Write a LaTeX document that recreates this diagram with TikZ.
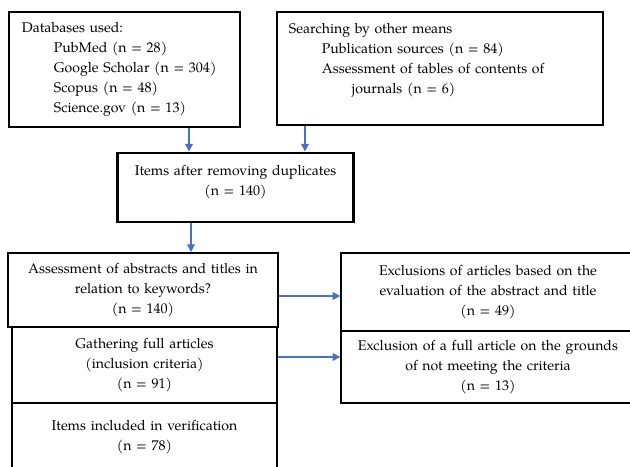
\documentclass[tikz,border=0pt]{standalone}
\usepackage{fontspec}
\setmainfont{TeX Gyre Pagella}
\usetikzlibrary{arrows.meta}
\definecolor{flowblue}{RGB}{68,114,196}
\tikzset{
	box/.style={draw=black, line width=1.4pt, inner ysep=0pt, align=center, font=\fontsize{10}{14.2}\selectfont},
	leftbox/.style={box, align=left},
	flow/.style={draw=flowblue, line width=1pt, -{Triangle[length=5.5pt,width=5.5pt]}}
}
\begin{document}
\begin{tikzpicture}[x=0.025cm, y=-0.025cm]
	\useasboundingbox (0,0) rectangle (630,466);
	\clip (0,0) rectangle (630,466);
		\node [leftbox, minimum width=5.775cm, minimum height=2.875cm, inner xsep=0.325cm, text width=5.125cm] (db) at (124.5,69.5)
			{Databases used:\\
			\hspace*{0.8cm}PubMed (n = 28)\\
			\hspace*{0.8cm}Google Scholar (n = 304)\\
			\hspace*{0.8cm}Scopus (n = 48)\\
			\hspace*{0.8cm}Science.gov (n = 13)};
		\node [leftbox, minimum width=8.15cm, minimum height=2.825cm, inner xsep=0.3cm, text width=7.55cm] (other) at (440,68.5)
			{Searching by other means\\
			\hspace*{0.825cm}Publication sources (n = 84)\\
			\hspace*{0.825cm}Assessment of tables of contents of\\
			\hspace*{1.575cm}journals (n = 6)\\ \mbox{}};
		\node [box, line width=2.1pt, minimum width=5.875cm, minimum height=1.725cm, text width=5.6cm] (dup) at (235.5,187.5)
			{Items after removing duplicates\\ (n = 140)\\[-4pt] \mbox{}};
		\node [box, minimum width=6.7cm, minimum height=1.85cm, text width=6.5cm] (assess) at (143,290)
			{Assessment of abstracts and titles in\\ relation to keywords?\\ (n = 140)};
		\node [box, minimum width=6.625cm, minimum height=1.9cm, text width=6.4cm] (full) at (144.5,365)
			{Gathering full articles\\ (inclusion criteria)\\ (n = 91)};
		\node [box, minimum width=6.625cm, minimum height=1.7cm, text width=6.4cm] (incl) at (144.5,437)
			{Items included in verification\\ (n = 78)};
		\node [box, minimum width=7.3cm, minimum height=1.95cm, text width=7.1cm] (excl) at (488,292)
			{Exclusions of articles based on the\\ evaluation of the abstract and title\\ (n = 49)};
		\node [box, minimum width=7.3cm, minimum height=1.8cm, text width=7.1cm] (exfull) at (488,367)
			{Exclusion of a full article on the grounds\\ of not meeting the criteria\\ (n = 13)};
		\draw[flow] ([xshift=1.6125cm]db.south) -- ([xshift=1.6125cm]db.south |- dup.north);
		\draw[flow] ([xshift=-3.375cm]other.south) -- ([xshift=-3.375cm]other.south |- dup.north);
		\draw[flow] ([xshift=-1.1125cm]dup.south) -- ([xshift=-1.1125cm]dup.south |- assess.north);
		\draw[flow] ([yshift=-0.15cm]assess.east) -- ([yshift=-0.15cm]assess.east -| excl.west);
		\draw[flow] ([yshift=0.2cm]full.east) -- ([yshift=0.2cm]full.east -| exfull.west);
\end{tikzpicture}
\end{document}
